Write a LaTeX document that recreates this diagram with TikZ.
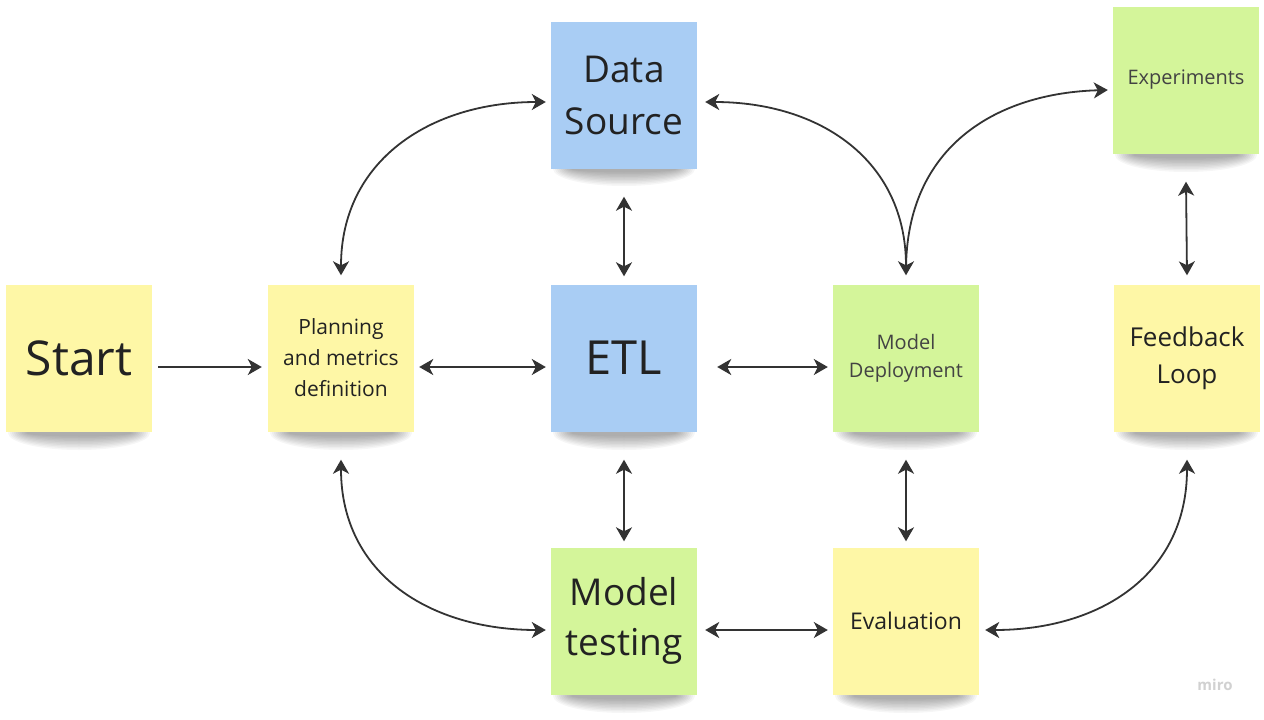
\documentclass[tikz,border=0pt]{standalone}
\usepackage{fontspec}
\setmainfont{Open Sans}
\usetikzlibrary{arrows.meta,calc}
\definecolor{ylw}{HTML}{FEF7A6}
\definecolor{blu}{HTML}{A9CDF4}
\definecolor{grn}{HTML}{D4F59A}
\definecolor{ink}{HTML}{222222}
\definecolor{arr}{HTML}{333333}
\newcommand{\noteshadow}[3]{% cx, bottom y, half width
  \foreach \k in {0,...,9}{
    \fill[black,opacity=0.035] (#1,#2+1) ellipse ({#3-2-2*\k} and {17-1.5*\k});
  }}
\tikzset{
  note/.style={minimum width=146pt, minimum height=147pt, inner sep=0pt, align=center, text=ink},
  yellownote/.style={note, fill=ylw},
  bluenote/.style={note, fill=blu},
  greennote/.style={note, fill=grn},
  link/.style={draw=arr, line width=1.8pt, {Stealth[length=14pt,width=16pt,inset=4pt]}-{Stealth[length=14pt,width=16pt,inset=4pt]}},
  onelink/.style={draw=arr, line width=1.8pt, -{Stealth[length=14pt,width=16pt,inset=4pt]}},
}
\begin{document}
\begin{tikzpicture}[x=1pt,y=-1pt]
\useasboundingbox (0,0) rectangle (1264,720);
\fill[white] (0,0) rectangle (1264,720);
% shadows
\noteshadow{79}{432}{73}
\noteshadow{341}{432}{73}
\noteshadow{624}{432}{73}
\noteshadow{906}{432}{73}
\noteshadow{1187}{432}{73}
\noteshadow{624}{168}{73}
\noteshadow{1186}{154}{73}
\noteshadow{624}{695}{73}
\noteshadow{906}{695}{73}
% notes
\node[yellownote, font=\fontsize{48}{56}\selectfont] (start) at (79,358) {Start};
\node[yellownote, font=\fontsize{21}{31}\selectfont] (plan) at (341,358) {Planning\\and metrics\\definition};
\node[bluenote, font=\fontsize{47}{56}\selectfont] (etl) at (624,358) {ETL};
\node[greennote, text=ink!85, font=\fontsize{20}{28}\selectfont] (deploy) at (906,358) {Model\\Deployment};
\node[yellownote, font=\fontsize{26}{37}\selectfont] (feedback) at (1187,358) {Feedback\\Loop};
\node[bluenote, font=\fontsize{37}{52}\selectfont] (data) at (624,95) {Data\\Source};
\node[greennote, text=ink!85, font=\fontsize{20}{26}\selectfont] (exp) at (1186,80) {Experiments};
\node[greennote, font=\fontsize{37}{50}\selectfont] (test) at (624,621) {Model\\testing};
\node[yellownote, font=\fontsize{23}{30}\selectfont] (eval) at (906,621) {Evaluation};
\node[text=black!18, font=\bfseries\fontsize{15}{18}\selectfont] (miro) at (1215,685) {miro};
% straight connectors
\draw[onelink] ($(start.east)+(6,9)$) -- ($(plan.west)+(-6,9)$);
\draw[link] ($(plan.east)+(5,9)$) -- ($(etl.west)+(-5,9)$);
\draw[link] ($(etl.east)+(20,9)$) -- ($(deploy.west)+(-5,9)$);
\draw[link] ($(test.east)+(8,9)$) -- ($(eval.west)+(-5,9)$);
\draw[link] ($(data.south)+(0,28)$) -- ($(etl.north)+(0,-8)$);
\draw[link] ($(etl.south)+(0,28)$) -- ($(test.north)+(0,-6)$);
\draw[link] ($(deploy.south)+(0,28)$) -- ($(eval.north)+(0,-6)$);
\draw[link] ($(exp.south)+(0,28)$) -- ($(feedback.north)+(0,-9)$);
% curved connectors
\draw[link] ($(plan.north)+(0,-9)$) .. controls +(0,-115) and +(-115,0) .. ($(data.west)+(-5,7)$);
\draw[link] ($(data.east)+(8,7)$) .. controls +(115,0) and +(0,-115) .. ($(deploy.north)+(0,-9)$);
\draw[onelink] ($(deploy.north)+(0,-14)$) .. controls +(0,-125) and +(-110,3) .. ($(exp.west)+(-5,10)$);
\draw[link] ($(plan.south)+(0,28)$) .. controls +(0,115) and +(-115,0) .. ($(test.west)+(-5,9)$);
\draw[link] ($(eval.east)+(6,9)$) .. controls +(115,0) and +(0,115) .. ($(feedback.south)+(0,28)$);
\end{tikzpicture}
\end{document}
